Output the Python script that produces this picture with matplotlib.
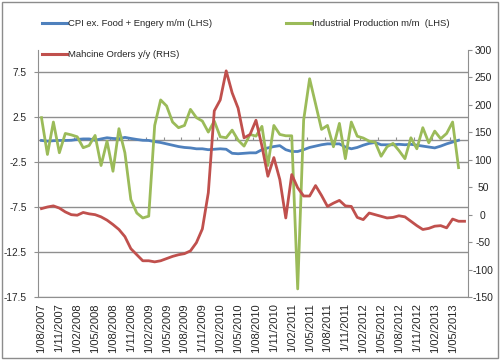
import numpy as np
import matplotlib.pyplot as plt
from matplotlib.lines import Line2D
from matplotlib.patches import Rectangle

plt.rcParams['font.family'] = ['Liberation Sans', 'DejaVu Sans']
plt.rcParams['axes.unicode_minus'] = False

# 数据：2007年8月起的月度序列
tick_labels = ['1/08/2007', '1/11/2007', '1/02/2008', '1/05/2008', '1/08/2008',
               '1/11/2008', '1/02/2009', '1/05/2009', '1/08/2009', '1/11/2009',
               '1/02/2010', '1/05/2010', '1/08/2010', '1/11/2010', '1/02/2011',
               '1/05/2011', '1/08/2011', '1/11/2011', '1/02/2012', '1/05/2012',
               '1/08/2012', '1/11/2012', '1/02/2013', '1/05/2013']

cpi = [-0.07, -0.15, -0.1, -0.07, -0.07, -0.05, 0.04, 0.1, 0.1, -0.05,
       0.1, 0.23, 0.15, 0.12, 0.27, 0.15, 0.04, -0.05, -0.07, -0.2,
       -0.3, -0.45, -0.6, -0.75, -0.85, -0.9, -1.0, -1.0, -1.1, -1.05,
       -1.0, -1.05, -1.5, -1.55, -1.5, -1.45, -1.45, -1.1, -0.9, -0.75,
       -0.65, -1.1, -1.3, -1.3, -1.1, -0.85, -0.7, -0.55, -0.45, -0.45,
       -0.45, -0.8, -1.0, -0.85, -0.6, -0.4, -0.3, -0.55, -0.55, -0.55,
       -0.5, -0.55, -0.5, -0.6, -0.7, -0.8, -0.9, -0.7, -0.45, -0.25, -0.05]

ip = [2.47, -1.63, 1.98, -1.44, 0.71, 0.55, 0.34, -0.88, -0.63, 0.49,
      -2.86, -0.15, -3.5, 1.24, -1.44, -6.66, -8.15, -8.7, -8.5, 1.6,
      4.44, 3.77, 1.98, 1.35, 1.6, 3.39, 2.47, 2.09, 0.86, 2.09,
      0.34, 0.23, 1.08, -0.04, -0.7, 0.6, 0.41, 1.5, -2.86, 1.6,
      0.6, 0.45, 0.45, -16.6, 2.2, 6.8, 4.0, 1.16, 1.6, -0.77,
      1.83, -2.1, 1.98, 0.4, 0.2, -0.15, -0.26, -1.83, -0.77, -0.4,
      -1.2, -2.1, 0.23, -1.0, 1.35, -0.33, 0.97, 0.12, 0.71, 1.98, -3.1]

orders = [11, 14, 16, 12, 5, 0, -1, 4, 1.5, 0,
          -4, -10, -18, -27, -40, -62, -73, -84, -84, -86,
          -84, -80, -76, -73, -71, -66, -51, -26, 40, 189,
          209, 262, 222, 194, 140, 146, 172, 125, 70, 104,
          64, -6, 73, 49, 34, 34, 53, 35, 15, 21,
          26, 16, 15, -5, -9, 3, 0, -3, -6, -5,
          -2, -4, -12, -20, -27, -25, -21, -20, -24, -8,
          -12, -12]

W, H = 502, 363
gray = '#8f8f8f'
txt = '#262626'

fig = plt.figure(figsize=(W / 100, H / 100), dpi=100)
ax = fig.add_axes([38.5 / W, 1 - 297 / H, 429 / W, 247 / H])
ax2 = ax.twinx()

# 网格线与零轴
ax.set_ylim(-17.5, 10)
ax.set_yticks(np.arange(-17.5, 8, 5))
ax.yaxis.grid(True, color=gray, lw=1.0)
ax.set_axisbelow(True)
ax.axhline(0, color=gray, lw=1.0, zorder=1)
ax.vlines(np.arange(-0.5, 71, 3), 0, 0.35, color=gray, lw=0.8, zorder=1)

ax.plot(np.arange(len(cpi)), cpi, color='#4F81BD', lw=2.0, zorder=3)
ax.plot(np.arange(len(ip)), ip, color='#9BBB59', lw=2.0, zorder=3)
ax2.plot(np.arange(len(orders)), orders, color='#C0504D', lw=2.0)

ax.set_xlim(-0.5, 71.5)
ax.set_xticks(np.arange(0, 72, 3))
ax.set_xticklabels(tick_labels, rotation=90, fontsize=8, color=txt)
ax.tick_params(axis='x', length=0, pad=4.5)
ax.tick_params(axis='y', length=3, color=gray, labelsize=7.3, labelcolor=txt, pad=5.4)

ax2.set_ylim(-150, 300)
ax2.set_yticks(np.arange(-150, 301, 50))
ax2.tick_params(axis='y', length=3, color=gray, labelsize=7.5, labelcolor=txt, pad=8.1)
for lab in ax2.get_yticklabels():
    lab.set_horizontalalignment('center')

for a in (ax, ax2):
    a.spines['top'].set_visible(False)
    for s in a.spines.values():
        s.set_color(gray)
ax2.spines['left'].set_visible(False)
ax2.spines['bottom'].set_visible(False)
ax.spines['right'].set_visible(False)


# 图例（手动放置）
def legend_entry(x, y, color, label):
    fig.add_artist(Line2D([x / W, (x + 25) / W], [1 - y / H, 1 - y / H],
                          color=color, lw=2.2))
    fig.text((x + 26.5) / W, 1 - (y + 0.5) / H, label, ha='left', va='center',
             fontsize=6.8, color=txt)


legend_entry(41.7, 23.3, '#4F81BD', 'CPI ex. Food + Engery m/m (LHS)')
legend_entry(286, 23.3, '#9BBB59', 'Industrial Production m/m  (LHS)')
legend_entry(41.7, 54.3, '#C0504D', 'Mahcine Orders y/y (RHS)')

# 外边框
fig.add_artist(Rectangle((2.5 / W, 1 - 358 / H), 496 / W, 356 / H,
                         transform=fig.transFigure, fill=False,
                         ec='#8c8c8c', lw=1.0))

fig.savefig('out.png', dpi=100)
